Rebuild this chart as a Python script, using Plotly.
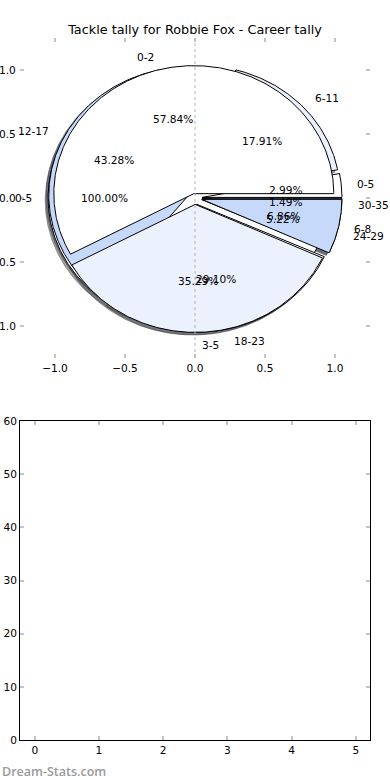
import numpy as np
import plotly.graph_objects as go

# ---------------- data ----------------
TITLE = "Tackle tally for Robbie Fox - Career tally"
WATERMARK = "Dream-Stats.com"

pie1_labels = ["0-2", "3-5", "6-8"]
pie1_values = [59, 36, 7]

pie2_labels = ["0-5", "6-11", "12-17", "18-23", "24-29", "30-35"]
pie2_values = [4, 24, 58, 39, 7, 2]

pie3_labels = ["0-5"]
pie3_values = [1]

pie_tickvals = [-1.0, -0.5, 0.0, 0.5, 1.0]
pie_xticktext = ["\u22121.0", "\u22120.5", "0.0", "0.5", "1.0"]
pie_yticktext = ["\u22121.0", "\u22120.5", "0.0", "0.5", "1.0"]

bottom_xticks = [0, 1, 2, 3, 4, 5]
bottom_yticks = [0, 10, 20, 30, 40, 50, 60]

# ---------------- style ----------------
COLORS = ["#ffffff", "#ebf1fd", "#c6d9fb"]
FONT = "DejaVu Sans"
LBL = 10.6
TICKC = "#c4c4c4"

# explode per pie (style)
explode1 = [0.035, 0.05, 0.05]
explode2 = [0.05] * 6
explode3 = [0.05]


def hex_rgb(h):
    h = h.lstrip("#")
    return tuple(int(h[i:i + 2], 16) for i in (0, 2, 4))


def pie_geometry(values, explode):
    total = float(sum(values))
    out = []
    t = 0.0
    for v, e in zip(values, explode):
        frac = v / total
        t1, t2 = 360.0 * t, 360.0 * (t + frac)
        tm = np.radians((t1 + t2) / 2.0)
        cx, cy = e * np.cos(tm), e * np.sin(tm)
        out.append(dict(t1=t1, t2=t2, tm=tm, cx=cx, cy=cy, frac=frac))
        t += frac
    return out


def wedge_xy(g, dx=0.0, dy=0.0):
    n = max(int(abs(g["t2"] - g["t1"]) / 0.5) + 2, 4)
    th = np.radians(np.linspace(g["t1"], g["t2"], n))
    ax = g["cx"] + np.cos(th) + dx
    ay = g["cy"] + np.sin(th) + dy
    if abs((g["t2"] - g["t1"]) - 360.0) < 1e-9:
        return list(ax), list(ay)
    xs = [g["cx"] + dx] + list(ax) + [g["cx"] + dx]
    ys = [g["cy"] + dy] + list(ay) + [g["cy"] + dy]
    return xs, ys


pies = [
    (pie3_labels, pie3_values, explode3),
    (pie2_labels, pie2_values, explode2),
    (pie1_labels, pie1_values, explode1),
]

fig = go.Figure()

geoms = [pie_geometry(v, e) for (_, v, e) in pies]

# shadows (beneath all wedges)
for geo in geoms:
    for i, g in enumerate(geo):
        r, gg, b = hex_rgb(COLORS[i % 3])
        col = "rgba(%d,%d,%d,0.5)" % (r * 0.3, gg * 0.3, b * 0.3)
        xs, ys = wedge_xy(g, -0.02, -0.02)
        fig.add_trace(go.Scatter(x=xs, y=ys, mode="lines", fill="toself",
                                 fillcolor=col, line=dict(color=col, width=1),
                                 hoverinfo="skip", xaxis="x", yaxis="y"))

# wedges
for geo in geoms:
    for i, g in enumerate(geo):
        xs, ys = wedge_xy(g)
        fig.add_trace(go.Scatter(x=xs, y=ys, mode="lines", fill="toself",
                                 fillcolor=COLORS[i % 3],
                                 line=dict(color="black", width=1),
                                 hoverinfo="skip", xaxis="x", yaxis="y"))

# labels
annotations = []
for (labels, values, _), geo in zip(pies, geoms):
    for lab, g in zip(labels, geo):
        xt = g["cx"] + 1.1 * np.cos(g["tm"])
        yt = g["cy"] + 1.1 * np.sin(g["tm"])
        annotations.append(dict(x=xt, y=yt, xref="x", yref="y", text=lab,
                                showarrow=False,
                                xanchor="left" if xt > 0 else "right",
                                yanchor="middle",
                                font=dict(family=FONT, size=LBL, color="black")))
        xp = g["cx"] + 0.6 * np.cos(g["tm"])
        yp = g["cy"] + 0.6 * np.sin(g["tm"])
        annotations.append(dict(x=xp, y=yp, xref="x", yref="y",
                                text="%.2f%%" % (100.0 * g["frac"]),
                                showarrow=False, xanchor="center", yanchor="middle",
                                font=dict(family=FONT, size=LBL, color="black")))

annotations.append(dict(x=0, y=1 - 771 / 780, xref="paper", yref="paper",
                        text=WATERMARK, showarrow=False, xanchor="left",
                        yanchor="middle",
                        font=dict(family="Open Sans", size=12.5, color="#9a9a9a",
                                  weight=600)))

# empty bottom axes holder
fig.add_trace(go.Scatter(x=[], y=[], mode="markers", xaxis="x2", yaxis="y2",
                         hoverinfo="skip"))

common = dict(ticks="inside", ticklen=4, tickwidth=2, tickcolor=TICKC,
              mirror="ticks", showgrid=False, zeroline=False, fixedrange=True,
              automargin=False,
              tickfont=dict(family=FONT, size=LBL, color="black"))

fig.update_layout(
    width=390, height=780,
    margin=dict(l=0, r=0, t=0, b=0, autoexpand=False),
    paper_bgcolor="white", plot_bgcolor="white",
    showlegend=False,
    title=dict(text=TITLE, x=0.5, xanchor="center", xref="paper",
               y=1 - 30 / 780, yanchor="middle", yref="paper", automargin=False,
               font=dict(family=FONT, size=12.8, color="black")),
    xaxis=dict(domain=[20 / 390, 370 / 390], range=[-1.25, 1.25], anchor="y",
               tickvals=pie_tickvals, ticktext=pie_xticktext,
               showline=True, linecolor="rgba(0,0,0,0)", **common),
    yaxis=dict(domain=[1 - 358 / 780, 1 - 38 / 780], range=[-1.25, 1.25],
               anchor="x", tickvals=pie_tickvals, ticktext=pie_yticktext,
               ticklabelstandoff=1,
               showline=True, linecolor="rgba(0,0,0,0)", **common),
    xaxis2=dict(domain=[20 / 390, 370 / 390], range=[-0.23, 5.22], anchor="y2",
                tickvals=bottom_xticks, showline=True, linecolor="black",
                linewidth=1, **common),
    yaxis2=dict(domain=[1 - 740 / 780, 1 - 421 / 780], range=[0, 60],
                anchor="x2", tickvals=bottom_yticks, showline=True,
                linecolor="black", linewidth=1, **common),
    annotations=annotations,
    shapes=[dict(type="line", xref="x", yref="y domain", x0=0, x1=0, y0=0, y1=1,
                 line=dict(color="#b4b4b4", width=1, dash="dot"), layer="above")],
)

fig.write_html("out.html",
               config={"displayModeBar": False},
               post_script="document.body.style.margin='0';"
                           "document.body.style.overflow='hidden';")
